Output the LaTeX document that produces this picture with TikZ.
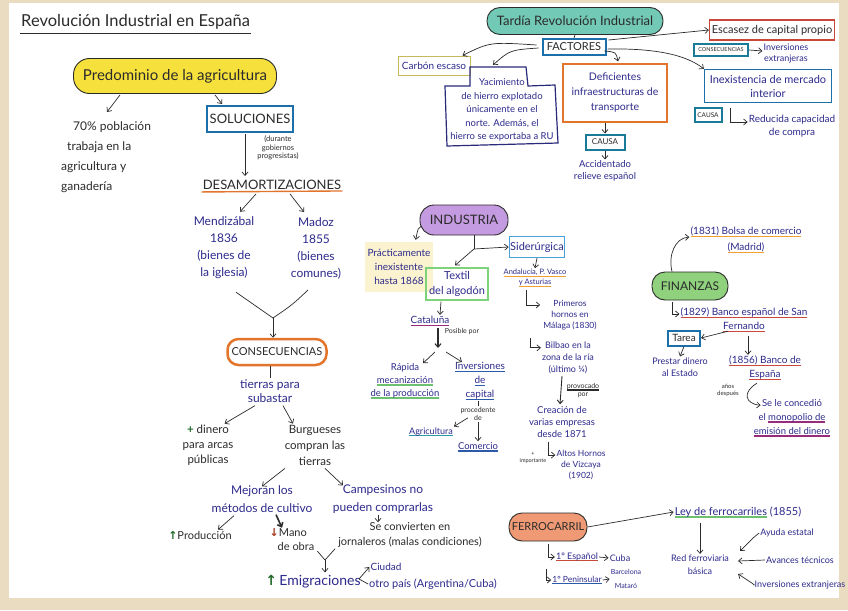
\documentclass[tikz,border=0pt]{standalone}
\usepackage{fontspec}
\setmainfont{Lato}
\newfontfamily\symf{DejaVu Sans}
\usetikzlibrary{calc,arrows.meta}
\definecolor{inkblack}{HTML}{2B2B2B}
\definecolor{inkblue}{HTML}{2D2A8C}
\definecolor{yel}{HTML}{F6E03C}
\definecolor{tealf}{HTML}{72C9B5}
\definecolor{lav}{HTML}{C49BE0}
\definecolor{greenf}{HTML}{8FD17C}
\definecolor{salmon}{HTML}{EF9A74}
\definecolor{blueb}{HTML}{1C6FA8}
\definecolor{tealb}{HTML}{1A7B98}
\definecolor{oranb}{HTML}{E2742C}
\definecolor{redb}{HTML}{C8473A}
\definecolor{olive}{HTML}{C7B85A}
\definecolor{greenb}{HTML}{7ED37A}
\definecolor{lblue}{HTML}{4AA0D8}
\definecolor{purpb}{HTML}{2A2A7A}
\definecolor{uorange}{HTML}{F0A030}
\definecolor{redu}{HTML}{C84A3A}
\definecolor{greenu}{HTML}{6CC070}
\definecolor{blueu}{HTML}{2A5AA8}
\definecolor{tealu}{HTML}{2A9AA8}
\definecolor{purpu}{HTML}{9A2A7A}
\definecolor{upgreen}{HTML}{1F6A2A}
\definecolor{downred}{HTML}{A8381E}
\definecolor{hlyellow}{HTML}{FBF3CF}
\definecolor{beige}{HTML}{E9DCC0}
\newcommand\myfs[2]{\fontsize{#1}{#2}\selectfont}
\newlength\culw
\newcommand\cul[2]{\settowidth\culw{#2}\rlap{\textcolor{#1}{\rule[-0.45ex]{\culw}{1.1pt}}}#2}
\tikzset{
  t/.style={inner sep=1pt, align=center, text=inkblack},
  bt/.style={t, text=inkblue},
  arr/.style={draw=inkblack, line width=0.7pt, -{Straight Barb[length=3.5pt,width=6pt]}},
  ln/.style={draw=inkblack, line width=0.7pt},
  blob/.style={draw=inkblack, line width=0.9pt, rounded corners=14pt, align=center, text=inkblack, inner sep=1pt},
  frame/.style={draw, line width=1.3pt, align=center, inner sep=3pt, text=inkblack},
}
\begin{document}
\begin{tikzpicture}[x=1pt,y=-1pt]
\useasboundingbox (0,0) rectangle (848,610);
\fill[beige] (0,0) rectangle (848,610);
\fill[white] (9,3) rectangle (839,598);

% ---------- left column ----------
\node[t, anchor=west, font=\myfs{16.5}{19}] (title) at (20,22) {Revolución Industrial en España};
\draw[ln] ([yshift=-3pt]title.south west) -- ([yshift=-3pt]title.south east);

\node[blob, fill=yel, minimum width=203pt, minimum height=35pt, rounded corners=16pt, font=\myfs{15}{18}] (pred) at (175,76) {Predominio de la agricultura};
\node[t, align=left, anchor=north west, font=\myfs{12}{20}] (pob) at (60,120) {\hspace*{12pt}70\% población\\\hspace*{6pt}trabaja en la\\agricultura y\\ganadería};
\draw[arr] ($(pred.south)+(-55,1)$) -- ($(pob.north west)+(47,-8)$);

\node[frame, draw=blueb, line width=2pt, minimum width=85pt, minimum height=26pt, font=\myfs{13}{15}] (sol) at (250,119) {SOLUCIONES};
\draw[arr] ($(pred.south)+(40,1)$) -- ($(sol.north)+(-28,-1)$);

\node[t, font=\myfs{13}{15}] (desam) at (272,185) {DESAMORTIZACIONES};
\draw[draw=oranb, line width=1.4pt] ($(desam.south west)+(0,1)$) -- ($(desam.south east)+(0,0)$);
\draw[arr] ($(sol.south)+(-5,1)$) -- ($(desam.north)+(-27,-3)$);
\node[t, font=\myfs{7.5}{8.5}] (note) at (278,148) {(durante\\gobiernos\\progresistas)};

\node[bt, font=\myfs{12}{17}] (mend) at (224,248) {Mendizábal\\1836\\(bienes de\\la iglesia)};
\node[bt, font=\myfs{12}{17}] (madoz) at (316,248) {Madoz\\1855\\(bienes\\comunes)};
\draw[arr] ($(desam.south)+(-16,3)$) -- ($(mend.north)+(16,-4)$);
\draw[arr] ($(desam.south)+(18,3)$) -- ($(madoz.north)+(-12,-4)$);

\node[blob, draw=oranb, line width=2.5pt, rounded corners=11pt, minimum width=99pt, minimum height=26pt, font=\myfs{11}{13}, fill=white] (cons) at (277,352) {CONSECUENCIAS};
\coordinate (mj) at (273,318);
\draw[ln] ($(mend.south)+(12,12)$) .. controls (255,305) .. (mj);
\draw[ln] ($(madoz.south)+(-8,10)$) .. controls (292,305) .. (mj);
\draw[arr] (mj) -- (mj |- cons.north);

\node[bt, font=\myfs{12}{14}] (tierras) at (270,391) {tierras para\\subastar};
\draw[ln] (tierras.north |- cons.south) -- (tierras.north);

\node[t, font=\myfs{11.5}{15}] (dinero) at (208,445) {\textcolor{upgreen}{\bfseries +} dinero\\para arcas\\públicas};
\node[t, font=\myfs{11.5}{16}] (burg) at (315,445) {Burgueses\\compran las\\tierras};
\draw[arr] ($(tierras.south)+(-15,2)$) -- ($(dinero.north east)+(-10,0)$);
\draw[arr] ($(tierras.south)+(13,2)$) -- ($(burg.north)+(-22,0)$);

\node[bt, font=\myfs{12}{18}] (mej) at (262,499) {Mejoran los\\métodos de cultivo};
\node[bt, font=\myfs{12}{18}] (camp) at (383,499) {Campesinos no\\pueden comprarlas};
\draw[arr] ($(burg.south)+(-30,2)$) -- ($(mej.north)+(0,2)$);
\draw[arr] ($(burg.south)+(10,2)$) -- ($(camp.north)+(-40,2)$);

\node[t, font=\myfs{11}{13}] (prod) at (200,535) {{\symf\bfseries\color{upgreen}↑}Producción};
\node[t, font=\myfs{11}{14}, align=left] (mano) at (292,540) {{\symf\bfseries\color{downred}↓}Mano\\\hspace*{8pt}de obra};
\draw[arr] ($(mej.south)+(-28,2)$) -- ($(prod.north)+(18,0)$);
\draw[arr, line width=1.6pt] ($(mej.south)+(14,1)$) -- ($(mano.north)+(-10,0)$);

\node[t, font=\myfs{11}{15}] (jorn) at (410,535) {Se convierten en\\jornaleros (malas condiciones)};
\draw[arr] ($(camp.south)+(-5,0)$) -- ($(jorn.north)+(-32,1)$);

\node[bt, font=\myfs{14}{16}] (emig) at (313,582) {{\symf\bfseries\color{upgreen}↑}\,Emigraciones};
\coordinate (vj) at (325,560);
\draw[ln] ($(mano.south east)+(2,-1)$) -- (vj);
\draw[ln] ($(jorn.south west)+(-2,0)$) -- (vj);
\draw[arr] (vj) -- ($(vj |- emig.north)+(0,-2)$);

\node[bt, font=\myfs{10}{12}] (ciud) at (386,567) {Ciudad};
\node[bt, font=\myfs{11}{13}, anchor=west] (otro) at (368,584) {otro país (Argentina/Cuba)};
\coordinate (lt) at (359,579);
\draw[arr] (lt) -- (ciud.west);
\draw[ln] (lt) -- (otro.west);

% ---------- top right ----------
\node[blob, fill=tealf, minimum width=176pt, minimum height=27pt, rounded corners=13pt, font=\myfs{13}{15}] (tardia) at (575,21) {Tardía Revolución Industrial};
\node[frame, draw=blueb, line width=2pt, minimum width=63pt, minimum height=16pt, inner sep=1pt, font=\myfs{11}{13}] (fact) at (574,47) {FACTORES};
\draw[ln] (tardia.south) -- (fact.north);

\node[frame, draw=olive, line width=1pt, minimum width=72pt, minimum height=18pt, inner sep=1pt, text=inkblue, font=\myfs{10}{12}] (carbon) at (434,66) {Carbón escaso};
\draw[arr] ($(fact.west)+(-5,-2)$) .. controls (490,42) .. ($(carbon.north east)+(-8,-1)$);

\node[bt, font=\myfs{9.5}{13.5}] (yac) at (502,110) {Yacimiento\\de hierro explotado\\únicamente en el\\norte. Además, el\\hierro se exportaba a RU};
\draw[draw=purpb, line width=1.2pt] (470,67) -- (526,67) -- (528,86) -- (555,85) -- (558,143) -- (447,146) -- (445,86) -- (470,86) -- cycle;
\coordinate (yactop) at (493,65);
\draw[arr] ($(fact.west)+(-3,1)$) .. controls (510,50) .. (yactop);

\node[frame, draw=oranb, line width=1.2pt, minimum width=104pt, minimum height=58pt, text=inkblue, font=\myfs{10.5}{15}] (defic) at (615,93) {Deficientes\\infraestructuras de\\transporte};
\draw[arr] ($(fact.east)+(-2,4)$) .. controls (616,52) .. ($(defic.north)+(3,-2)$);
\node[frame, draw=tealb, line width=2pt, minimum width=39pt, minimum height=15pt, inner sep=1pt, font=\myfs{8}{10}] (causa1) at (605,142) {CAUSA};
\draw[arr] (causa1.north |- defic.south) -- (causa1.north);
\node[bt, font=\myfs{9.5}{12}] (accid) at (605,171) {Accidentado\\relieve español};
\draw[arr] (causa1.south) -- (accid.north);

\node[frame, draw=redb, line width=1.2pt, minimum width=125pt, minimum height=20pt, inner sep=1pt, font=\myfs{11}{13}] (esc) at (772,30) {Escasez de capital propio};
\draw[arr] ($(fact.north east)+(2,2)$) -- (esc.west);
\node[frame, draw=tealb, line width=2pt, minimum width=54pt, minimum height=12pt, inner sep=0.5pt, font=\myfs{5.5}{6}] (cons2) at (721,50) {CONSECUENCIAS};
\node[bt, font=\myfs{9}{11}] (invext) at (786,54) {Inversiones\\extranjeras};
\draw[arr] (cons2.east) -- ($(invext.west)+(0,-3)$);
\node[frame, draw=blueb, line width=1.2pt, minimum width=127pt, minimum height=33pt, text=inkblue, font=\myfs{11}{14}] (inex) at (768,86) {Inexistencia de mercado\\interior};
\draw[arr] ($(fact.east)+(1,2)$) .. controls (665,48) and (690,58) .. (inex.north west);
\node[frame, draw=tealb, line width=2pt, minimum width=27pt, minimum height=14pt, inner sep=0.5pt, font=\myfs{6.5}{8}] (causa2) at (708,115) {CAUSA};
\node[bt, font=\myfs{10}{13}] (reduc) at (792,126) {Reducida capacidad\\de compra};
\draw[arr] ($(causa2.east)+(8,-7)$) |- ($(reduc.west)+(0,-4)$);

% ---------- industria ----------
\node[blob, fill=lav, minimum width=88pt, minimum height=30pt, rounded corners=14pt, font=\myfs{13}{15}] (ind) at (464,220) {INDUSTRIA};
\node[bt, fill=hlyellow, inner sep=3pt, minimum width=62pt, minimum height=50pt, font=\myfs{10}{14}] (pract) at (399,267) {Prácticamente\\inexistente\\hasta 1868};
\draw[arr] ($(ind.west)+(2,6)$) .. controls (418,228) .. ($(pract.north east)+(-18,-2)$);
\node[frame, draw=greenb, line width=1.2pt, minimum width=51pt, minimum height=32pt, text=inkblue, font=\myfs{11}{15}] (textil) at (457,284) {Textil\\del algodón};
\coordinate (ij) at (474,249);
\draw[ln] (ij |- ind.south) -- (ij);
\draw[arr] (ij) -- ($(textil.north)+(-2,-2)$);
\node[frame, draw=lblue, line width=1.2pt, minimum width=55pt, minimum height=21pt, inner sep=1pt, text=inkblue, font=\myfs{11}{13}] (sider) at (537,247) {Siderúrgica};
\draw[arr] (ij) -- (sider.west);

\node[bt, font=\myfs{7.5}{10}] (andal) at (535,278) {\cul{uorange}{Andalucía, P. Vasco}\\\cul{uorange}{y Asturias}};
\draw[arr] (sider.south) -- (andal.north);
\node[bt, font=\myfs{8.5}{11}] (hornos) at (570,315) {Primeros\\hornos en\\Málaga (1830)};
\draw[arr] ($(andal.south west)+(24,2)$) |- ($(hornos.north west)+(-2,6)$);
\node[bt, font=\myfs{9}{12}] (bilbao) at (568,358) {Bilbao en la\\zona de la ría\\(último ¼)};
\draw[arr] ($(hornos.south west)+(-12,7)$) |- ($(bilbao.north west)+(0,7)$);
\node[bt, font=\myfs{9.5}{12}] (creac) at (562,422) {Creación de\\varias empresas\\desde 1871};
\draw[arr, line width=0.9pt] ($(bilbao.south)+(-6,1)$) -- ($(creac.north)+(-2,-1)$);
\node[t, font=\myfs{7}{8}] (provoc) at (583,391) {\cul{inkblack}{provocado}\\por};
\node[bt, font=\myfs{8.5}{11}] (altos) at (581,465) {Altos Hornos\\de Vizcaya\\(1902)};
\node[t, font=\myfs{5.5}{6.5}] (imp) at (533,458) {+\\importante};
\draw[arr] ($(creac.south west)+(20,3)$) |- ($(altos.north west)+(0,6)$);

\node[bt, font=\myfs{10}{12}] (cat) at (430,321) {\cul{purpu}{Cataluña}};
\draw[arr] ($(textil.south)+(-16,1)$) -- ($(cat.north)+(10,0)$);
\node[t, font=\myfs{7}{8}] (posib) at (462,332) {Posible por};
\coordinate (cj) at (438,348);
\draw[arr, line width=1.1pt] ($(cat.south)+(8,1)$) -- (cj);
\node[bt, font=\myfs{9.5}{13}] (rap) at (405,381) {Rápida\\\cul{greenu}{mecanización}\\\cul{greenu}{de la producción}};
\node[bt, font=\myfs{10}{14}] (inv) at (480,381) {\cul{blueu}{Inversiones}\\\cul{blueu}{de}\\\cul{blueu}{capital}};
\draw[arr] ($(cj)+(-3,4)$) -- ($(rap.north)+(18,1)$);
\draw[arr] ($(cj)+(8,4)$) -- ($(inv.north)+(-18,1)$);
\node[t, font=\myfs{7}{8}] (proc) at (478,414) {procedente\\de};
\draw[ln] (proc.north |- inv.south) -- (proc.north);
\node[bt, font=\myfs{9}{11}] (agric) at (431,432) {\cul{tealu}{Agricultura}};
\node[bt, font=\myfs{9.5}{11}] (com) at (478,447) {\cul{blueu}{Comercio}};
\draw[arr] ($(proc.south)+(-10,-4)$) -- (agric.north east);
\draw[arr] (proc.south) -- (com.north);

% ---------- finanzas ----------
\node[blob, fill=greenf, minimum width=76pt, minimum height=28pt, rounded corners=13pt, font=\myfs{12}{14}] (fin) at (690,286) {FINANZAS};
\node[bt, font=\myfs{10}{16}] (bolsa) at (746,240) {\cul{uorange}{(1831) Bolsa de comercio}\\\cul{uorange}{(Madrid)}};
\draw[arr] ($(fin.north)+(-18,0)$) .. controls (668,255) and (675,238) .. ($(bolsa.west)+(0,-3)$);
\node[bt, font=\myfs{10}{14}] (banco) at (744,320) {\cul{redu}{(1829) Banco español de San}\\\cul{redu}{Fernando}};
\draw[arr] ($(fin.south)+(-18,2)$) |- ($(banco.west)+(0,-6)$);
\node[frame, draw=blueb, line width=2pt, minimum width=32pt, minimum height=15pt, inner sep=1pt, font=\myfs{10}{12}] (tarea) at (684,338) {Tarea};
\draw[arr] ($(banco.south)+(-16,-2)$) -- (tarea.east);
\node[bt, font=\myfs{9}{12}] (prest) at (680,367) {Prestar dinero\\al Estado};
\draw[arr] (tarea.south) -- (prest.north);
\node[bt, font=\myfs{10}{14}] (besp) at (765,368) {\cul{redu}{(1856) Banco de}\\\cul{redu}{España}};
\draw[arr] ($(banco.south)+(4,3)$) -- ($(besp.north)+(-17,0)$);
\node[t, font=\myfs{6}{7}] (anos) at (728,390) {años\\después};
\node[bt, font=\myfs{9.5}{14}] (monop) at (792,418) {Se le concedió\\el \cul{purpu}{monopolio de}\\\cul{purpu}{emisión del dinero}};
\draw[arr] ($(besp.south)+(-8,2)$) .. controls (742,392) and (745,404) .. ($(monop.north west)+(8,7)$);

% ---------- ferrocarril ----------
\node[blob, fill=salmon, minimum width=78pt, minimum height=28pt, rounded corners=13pt, font=\myfs{11}{13}] (ferro) at (548,527) {FERROCARRIL};
\node[bt, font=\myfs{11}{13}] (ley) at (738,512) {\cul{greenu}{Ley de ferrocarriles} (1855)};
\draw[arr] (ferro.east) -- (ley.west);
\node[bt, font=\myfs{9}{13}] (red) at (700,565) {Red ferroviaria\\básica};
\draw[arr] ($(ley.south)+(-38,4)$) -- (red.north);
\node[bt, font=\myfs{9}{11}] (ayuda) at (787,533) {Ayuda estatal};
\node[bt, font=\myfs{9}{11}] (avan) at (800,560) {Avances técnicos};
\node[bt, font=\myfs{9}{11}] (invx) at (800,585) {Inversiones extranjeras};
\draw[arr] (ayuda.west) .. controls (755,536) .. ($(red.east)+(10,-14)$);
\draw[arr] (avan.west) -- ($(red.east)+(8,-4)$);
\draw[arr] (invx.west) .. controls (755,585) .. ($(red.east)+(8,9)$);

\node[bt, font=\myfs{9}{11}] (esp) at (577,557) {\cul{redu}{1º Español}};
\node[bt, font=\myfs{9}{11}] (cuba) at (620,558) {Cuba};
\draw[arr] ($(ferro.south)+(0,3)$) |- (esp.west);
\draw[arr] (esp.east) -- (cuba.west);
\node[bt, font=\myfs{8.5}{11}] (pen) at (577,580) {\cul{blueu}{1º Peninsular}};
\node[bt, font=\myfs{7}{14}] (bcn) at (626,579) {Barcelona\\Mataró};
\draw[arr] ($(esp.south west)+(-8,6)$) |- (pen.west);
\draw[arr] (pen.east) -- (bcn.west);
\end{tikzpicture}
\end{document}
